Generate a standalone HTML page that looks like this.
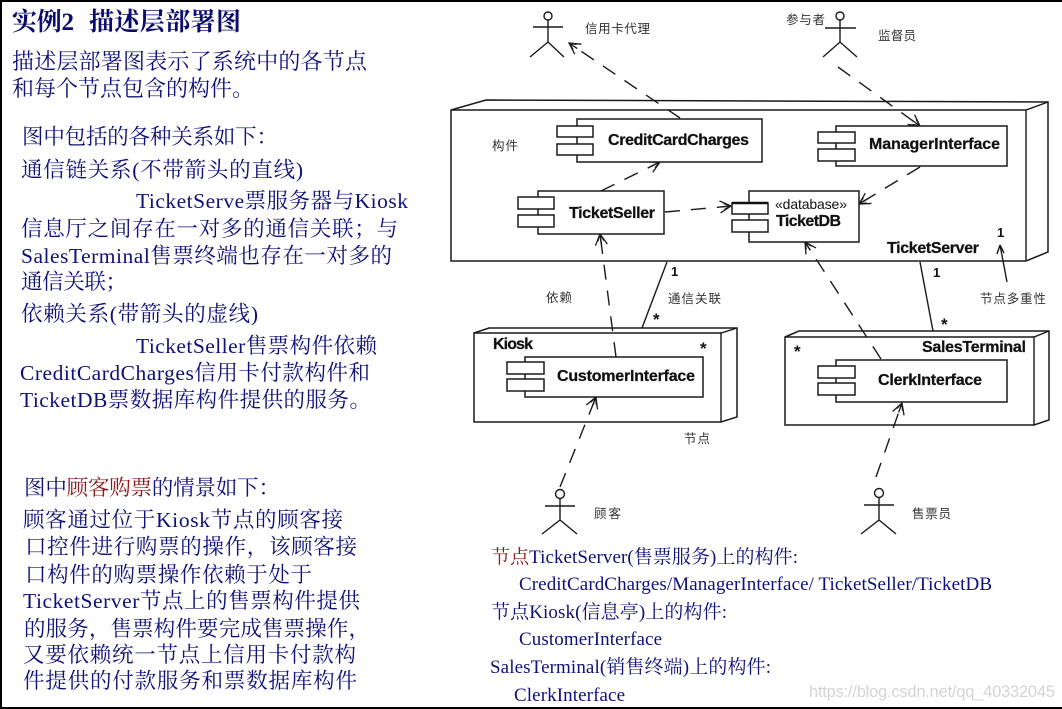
<!DOCTYPE html>
<html><head><meta charset="utf-8">
<style>
html,body{margin:0;padding:0;background:#fff;width:1062px;height:709px;overflow:hidden}
svg{display:block}
.t{font-family:"Liberation Serif","Noto Serif CJK SC",serif;fill:#10107a;font-size:21.5px}
.s{font-size:19px}
.b{font-family:"Liberation Sans","DejaVu Sans",sans-serif;font-weight:bold;fill:#111;font-size:16px;stroke:#111;stroke-width:.25}
.c{font-family:"Noto Sans CJK SC",sans-serif;fill:#333;font-size:12.5px}
.m{font-family:"Liberation Sans",sans-serif;fill:#111;font-weight:bold;font-size:13px}
.l{fill:none;stroke:#1a1a1a;stroke-width:1.4}
.d{fill:none;stroke:#1a1a1a;stroke-width:1.4;stroke-dasharray:15 11;marker-end:url(#a)}
.box{fill:#fff;stroke:#1a1a1a;stroke-width:1.5}
.r{fill:#8c1a1a}
.dg{filter:blur(.3px)}
</style></head><body>
<svg width="1062" height="709" viewBox="0 0 1062 709" xmlns="http://www.w3.org/2000/svg">
<defs>
<marker id="a" markerUnits="userSpaceOnUse" markerWidth="20" markerHeight="20" refX="15" refY="10" orient="auto">
<path d="M4 4L15 10L4 16M5 10H15M8 7L15 10L8 13" fill="none" stroke="#1a1a1a" stroke-width="1.3"/>
</marker>
</defs>
<rect width="1062" height="709" fill="#fff"/>
<rect x="0" y="0" width="1062" height="2" fill="#000"/>
<rect x="0" y="0" width="2" height="709" fill="#000"/>
<rect x="0" y="707" width="1062" height="2" fill="#000"/>

<!-- left text -->
<text class="t" x="12" y="30" style="font-size:25px;font-weight:bold;fill:#0c0c6e" textLength="62">实例2</text>
<text class="t" x="89" y="30" style="font-size:25px;font-weight:bold;fill:#0c0c6e" textLength="152">描述层部署图</text>
<text class="t" x="12" y="69" textLength="355" style="font-size:22px">描述层部署图表示了系统中的各节点</text>
<text class="t" x="12" y="96" textLength="242" style="font-size:22px">和每个节点包含的构件。</text>
<text class="t" x="22" y="144" textLength="256">图中包括的各种关系如下：</text>
<text class="t" x="21" y="177" textLength="282">通信链关系(不带箭头的直线)</text>
<text class="t" x="136" y="208" textLength="272">TicketServe票服务器与Kiosk</text>
<text class="t" x="21" y="236" textLength="377">信息厅之间存在一对多的通信关联；与</text>
<text class="t" x="21" y="263" textLength="371">SalesTerminal售票终端也存在一对多的</text>
<text class="t" x="21" y="289" textLength="106">通信关联；</text>
<text class="t" x="21" y="321" textLength="237">依赖关系(带箭头的虚线)</text>
<text class="t" x="136" y="353" textLength="241">TicketSeller售票构件依赖</text>
<text class="t" x="20" y="380" textLength="350">CreditCardCharges信用卡付款构件和</text>
<text class="t" x="20" y="407" textLength="351">TicketDB票数据库构件提供的服务。</text>
<text class="t" x="24" y="495" textLength="256">图中<tspan class="r">顾客购票</tspan>的情景如下：</text>
<text class="t" x="23" y="527" textLength="320">顾客通过位于Kiosk节点的顾客接</text>
<text class="t" x="25" y="554" textLength="332">口控件进行购票的操作，该顾客接</text>
<text class="t" x="25" y="582" textLength="287">口构件的购票操作依赖于处于</text>
<text class="t" x="23" y="608" textLength="337">TicketServer节点上的售票构件提供</text>
<text class="t" x="24" y="636" textLength="346">的服务，售票构件要完成售票操作，</text>
<text class="t" x="23" y="662" textLength="333">又要依赖统一节点上信用卡付款构</text>
<text class="t" x="23" y="688" textLength="334">件提供的付款服务和票数据库构件</text>

<!-- bottom right text -->
<text class="t s" x="491" y="563" textLength="307"><tspan class="r">节点</tspan>TicketServer(售票服务)上的构件:</text>
<text class="t s" x="519" y="590" textLength="473">CreditCardCharges/ManagerInterface/ TicketSeller/TicketDB</text>
<text class="t s" x="491" y="618" textLength="236">节点Kiosk(信息亭)上的构件:</text>
<text class="t s" x="519" y="645" textLength="143">CustomerInterface</text>
<text class="t s" x="490" y="673" textLength="281">SalesTerminal(销售终端)上的构件:</text>
<text class="t s" x="514" y="701" textLength="111">ClerkInterface</text>
<text x="809" y="697" textLength="246" style="font-family:'Liberation Sans',sans-serif;font-size:16.5px;fill:#d4d4d4">https://blog.csdn.net/qq_40332045</text>

<g class="dg">
<!-- TicketServer node -->
<path class="box" d="M451 110L486 100L1048 102V252L1026 261H451Z"/>
<path class="l" d="M451 110H1026L1048 102M1026 110V261"/>
<text class="b" x="887" y="253" textLength="92">TicketServer</text>
<text class="c" x="492" y="150" textLength="26">构件</text>
<text class="m" x="997" y="237">1</text>

<!-- Kiosk node -->
<path class="box" d="M474 333L489 328H737V417L721 422H474Z"/>
<path class="l" d="M474 333H721L737 328M721 333V422"/>
<text class="b" x="493" y="349" textLength="40">Kiosk</text>
<text class="m" x="700" y="354" style="font-size:17px">*</text>

<!-- SalesTerminal node -->
<path class="box" d="M785 337L799 331H1049V420L1034 425H785Z"/>
<path class="l" d="M785 337H1034L1049 331M1034 337V425"/>
<text class="b" x="922" y="352" textLength="104">SalesTerminal</text>
<text class="m" x="794" y="357" style="font-size:17px">*</text>

<!-- connectors -->
<path class="d" d="M680 118L569 43"/>
<path class="d" d="M838 67L920 126"/>
<path class="d" d="M601 191L660 162"/>
<path class="d" d="M920 167L859 204"/>
<path class="d" d="M665 212L731 206"/>
<path class="d" d="M616 357L600 234"/>
<path class="d" d="M881 359L805 242"/>
<path class="d" d="M560 487L596 397"/>
<path class="d" d="M876 477L902 403"/>
<path class="l" d="M1007 282L1000 245M1000 245L997 254M1000 245L1004 253"/>
<path class="l" d="M667 262L642 328M920 262L933 331"/>
<text class="m" x="671" y="276">1</text>
<text class="m" x="933" y="277">1</text>
<text class="m" x="653" y="325" style="font-size:17px">*</text>
<text class="m" x="941" y="330" style="font-size:17px">*</text>

<!-- components -->
<rect class="box" x="577" y="119" width="185" height="43"/>
<rect class="box" x="557" y="126" width="36" height="11"/>
<rect class="box" x="557" y="144" width="36" height="11"/>
<text class="b" x="608" y="145" textLength="141">CreditCardCharges</text>

<rect class="box" x="836" y="126" width="171" height="40"/>
<rect class="box" x="818" y="132" width="37" height="11"/>
<rect class="box" x="818" y="149" width="37" height="12"/>
<text class="b" x="869" y="149" textLength="131">ManagerInterface</text>

<rect class="box" x="538" y="191" width="126" height="43"/>
<rect class="box" x="518" y="197" width="36" height="12"/>
<rect class="box" x="518" y="215" width="36" height="12"/>
<text class="b" x="569" y="218" textLength="86">TicketSeller</text>

<rect class="box" x="749" y="191" width="110" height="51"/>
<rect class="box" x="732" y="203" width="36" height="11"/>
<path d="M732 203H768" stroke="#111" stroke-width="2.4"/>
<rect class="box" x="732" y="220" width="36" height="12"/>
<text x="775" y="209" textLength="72" style="font-family:'Liberation Sans',sans-serif;font-size:14px;fill:#111">«database»</text>
<text class="b" x="776" y="226" textLength="65">TicketDB</text>

<rect class="box" x="525" y="357" width="178" height="40"/>
<rect class="box" x="507" y="362" width="37" height="12"/>
<rect class="box" x="507" y="379" width="37" height="12"/>
<text class="b" x="557" y="381" textLength="138">CustomerInterface</text>

<rect class="box" x="836" y="360" width="171" height="42"/>
<rect class="box" x="818" y="366" width="37" height="12"/>
<rect class="box" x="818" y="383" width="37" height="12"/>
<text class="b" x="878" y="385" textLength="104">ClerkInterface</text>

<!-- actors -->
<g class="l">
<circle cx="548" cy="16" r="4"/><path d="M533 27H563M548 20V42M530 57L548 42L564 57"/>
<circle cx="840" cy="16" r="4"/><path d="M825 28H856M840 20V42M823 57L840 42L857 57"/>
<circle cx="560" cy="494" r="4.5"/><path d="M545 506H575M560 498V520M542 534L560 520L577 534"/>
<circle cx="879" cy="493" r="4.5"/><path d="M864 505H894M879 497V520M861 534L879 520L896 534"/>
</g>

<!-- labels -->
<text class="c" x="585" y="33" textLength="65">信用卡代理</text>
<text class="c" x="786" y="24" textLength="39">参与者</text>
<text class="c" x="878" y="40" textLength="38">监督员</text>
<text class="c" x="546" y="302" textLength="26">依赖</text>
<text class="c" x="668" y="303" textLength="53">通信关联</text>
<text class="c" x="980" y="303" textLength="66">节点多重性</text>
<text class="c" x="684" y="443" textLength="26">节点</text>
<text class="c" x="594" y="518" textLength="27">顾客</text>
<text class="c" x="912" y="518" textLength="39">售票员</text>
</g>
</svg>
</body></html>
